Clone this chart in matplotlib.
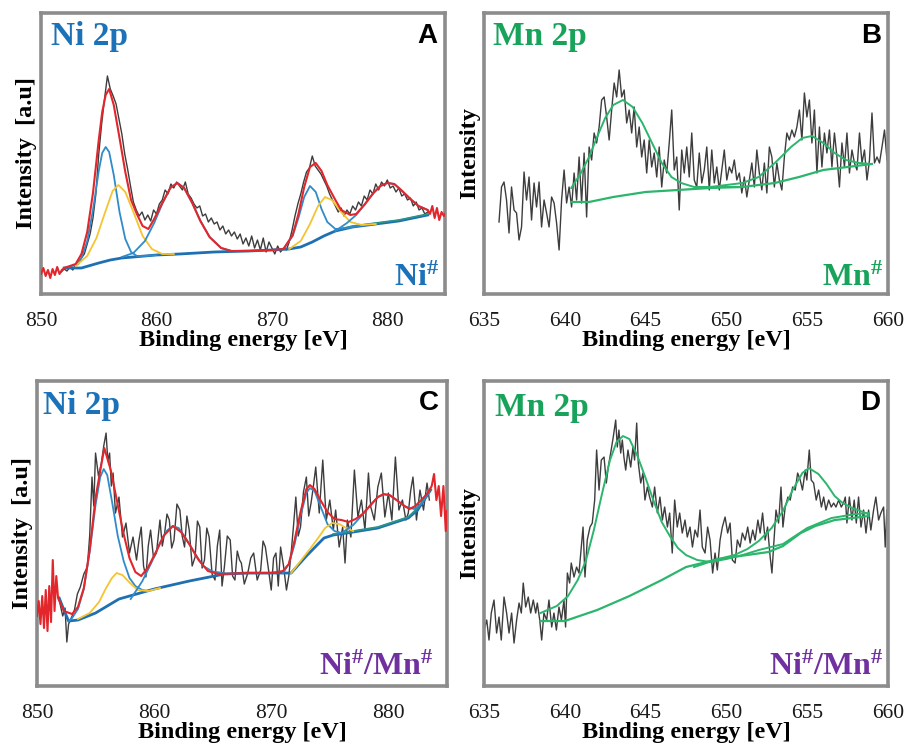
import numpy as np
import matplotlib.pyplot as plt

# ---------------- Panel A: Ni 2p of Ni# ----------------
a_raw_y = [22, 25, 23, 27, 24,
           29, 30, 36, 40, 50, 60, 76, 100, 140, 170, 195, 218,
           205, 198, 190, 175, 160, 140, 125, 108, 92, 84, 78, 82,
           74, 79, 73, 84, 80, 90, 94, 104, 100, 110, 106, 112,
           108, 104, 112, 100, 96, 90, 86, 88, 78, 80, 72, 76,
           70, 72, 64, 68, 60, 64, 58, 62, 55, 60, 50, 56,
           48, 58, 46, 54, 44, 56, 42, 52, 46, 40, 48, 42,
           46, 44, 52, 64, 78, 90, 100, 112, 122, 126, 138, 128,
           124, 120, 114, 108, 100, 94, 88, 82, 86, 78, 84, 80,
           88, 84, 92, 88, 98, 94, 104, 100, 110, 104, 112, 108,
           114, 106, 108, 102, 106, 98, 100, 94, 96, 88, 92, 84,
           86, 80, 82]
a_raw_x = np.linspace(851.75, 883.5, len(a_raw_y))

a_fit_x = [850.0, 850.2, 850.4, 850.6, 850.8, 851.0, 851.2, 851.4, 851.6, 851.8,
           852, 853, 853.5, 854, 854.5, 855, 855.3, 855.6, 855.9, 856.3,
           856.8, 857.3, 857.8, 858.3, 858.8, 859.3, 859.8, 860.5, 861.2, 861.8,
           862.4, 863.1, 863.8, 864.6, 865.6, 866.5, 868, 870, 871, 871.8,
           872.3, 872.8, 873.3, 873.8, 874.3, 874.8, 875.5, 876, 876.8, 877.3,
           878, 878.8, 879.4, 880, 880.6, 881.2, 882, 882.7, 883.5, 883.7,
           883.9, 884.1, 884.3, 884.5, 884.7, 884.9, 885.0]
a_fit_y = [20, 26, 18, 24, 16, 25, 19, 27, 20, 24,
           26, 30, 40, 62, 101, 154, 182, 199, 205, 189,
           156, 122, 94, 80, 68, 65, 75, 91, 106, 111,
           106, 91, 73, 57, 46, 43, 43, 44, 45, 59,
           80, 107, 127, 131, 123, 109, 94, 84, 79, 80,
           89, 101, 108, 111, 110, 104, 95, 88, 84, 80,
           88, 76, 86, 74, 82, 78, 80]

a_base_x = [852, 853.5, 855, 856, 857, 858, 860, 862, 865, 868, 870, 871.5,
            872.5, 873.5, 874.5, 875.5, 877, 879, 881, 883.5]
a_base_y = [26, 26, 31, 34, 36, 37, 39, 40, 42, 43, 44, 45,
            47, 52, 58, 63, 67, 70, 73, 79]
a_bg2_x = [875.5, 877, 879, 881, 883.5]
a_bg2_y = [64, 68, 71, 74, 80]

a_p1_x = [852, 853, 853.5, 854, 854.5, 855, 855.3, 855.6, 855.9, 856.3, 856.8,
          857.3, 857.8, 858.3, 859, 860]
a_p1_y = [26, 29, 36, 53, 84, 123, 141, 147, 142, 119, 82, 55, 42, 38, 38, 39]
a_y1_x = [853, 854, 854.8, 855.5, 856.2, 856.7, 857.3, 858, 858.8, 859.6, 860.5, 861.5]
a_y1_y = [28, 38, 56, 80, 103, 109, 102, 82, 58, 45, 40, 40]
a_p2_x = [857, 858, 859, 859.8, 860.5, 861.2, 861.8, 862.4, 863.1, 863.8, 864.6,
          865.6, 866.5, 868]
a_p2_y = [37, 41, 53, 71, 90, 106, 111, 106, 91, 73.5, 57, 46, 43, 43]
a_p3_x = [870, 871, 871.8, 872.3, 872.8, 873.3, 873.8, 874.3, 874.8, 875.5, 876.5, 878]
a_p3_y = [44, 45, 58, 76, 97, 108, 102, 85, 72, 65, 66, 69]
a_y3_x = [871.5, 872.5, 873.3, 874, 874.6, 875.2, 876, 876.8, 877.8, 879]
a_y3_y = [45, 53, 70, 88, 97, 94, 82, 72, 69, 70]
a_p4_x = [875.5, 876.5, 877.3, 878, 878.8, 879.4, 880, 880.6, 881.2, 882, 882.7, 883.5]
a_p4_y = [63, 71, 79, 89, 101, 108, 111, 110, 104, 95, 88, 84]

# ---------------- Panel B: Mn 2p of Mn# ----------------
b_raw_y = [72, 107, 112, 94, 61, 107, 84, 81, 54, 67, 122, 94, 117, 74, 111, 87,
           112, 67, 94, 81, 67, 97, 91, 71, 44, 94, 124, 91, 107, 87, 121, 94,
           137, 91, 141, 77, 147, 134, 161, 151, 167, 194, 197, 177, 154, 184,
           211, 197, 224, 197, 204, 171, 184, 161, 187, 147, 167, 137, 154, 121,
           154, 127, 141, 117, 147, 107, 134, 121, 151, 184, 124, 137, 84, 144,
           121, 147, 117, 161, 114, 107, 141, 111, 124, 147, 104, 144, 111, 127,
           104, 124, 144, 114, 127, 121, 134, 114, 121, 101, 117, 97, 114, 131,
           107, 144, 121, 104, 131, 101, 147, 137, 107, 131, 114, 104, 137, 161,
           154, 164, 157, 167, 184, 154, 201, 177, 194, 151, 184, 121, 167, 127,
           161, 141, 164, 127, 161, 137, 107, 151, 127, 161, 121, 144, 131, 124,
           161, 131, 144, 114, 134, 181, 131, 137, 131, 147, 164, 134]
b_raw_x = np.linspace(635.93, 659.94, len(b_raw_y))

b_base_x = [640.4, 641.5, 643, 645, 647, 649, 651, 653, 654.5, 656, 657.5, 659]
b_base_y = [92, 92, 97, 102, 104, 106, 107, 111, 117, 124, 127, 130]
b_p1_x = [640.4, 641, 641.5, 642, 642.5, 643, 643.6, 644.2, 644.8, 645.4, 646,
          646.6, 647.2, 648, 649, 650, 651]
b_p1_y = [106, 121, 137, 157, 176, 189, 194, 187, 171, 151, 131, 117, 111, 107,
          107, 107, 107]
b_p2_x = [649, 651, 652, 653, 654, 654.7, 655.3, 656, 656.7, 657.4, 658.2, 659]
b_p2_y = [107, 111, 117, 131, 147, 156, 158, 151, 141, 134, 131, 130]

# ---------------- Panel C: Ni 2p of Ni#/Mn# ----------------
c_raw_x = [851.9, 852.2, 852.4, 852.55, 852.7, 853.0, 853.2, 853.45, 853.7, 854.0,
           854.3, 854.5, 854.7, 854.85, 855.0, 855.25, 855.5, 855.7, 855.9, 856.05,
           856.2, 856.35, 856.5, 856.7, 857.0, 857.3, 857.6, 857.9, 858.2, 858.5,
           858.7, 858.9, 859.1, 859.3, 859.5, 859.7, 859.95, 860.2, 860.5, 860.7,
           860.9, 861.1, 861.3, 861.5, 861.7, 861.95, 862.2, 862.4, 862.6, 862.8,
           863.0, 863.25, 863.5, 863.7, 863.9, 864.1, 864.3, 864.5, 864.7, 864.95,
           865.2, 865.4, 865.6, 865.8, 866.0, 866.25, 866.5, 866.7, 866.9, 867.1,
           867.3, 867.45, 867.7, 868.0, 868.25, 868.5, 868.8, 869.1, 869.3, 869.5,
           869.75, 870.0, 870.2, 870.4, 870.6, 870.8, 871.05, 871.3, 871.5, 871.7,
           871.9, 872.1, 872.3, 872.5, 872.75, 873.0, 873.2, 873.4, 873.6, 873.8,
           874.1, 874.4, 874.7, 875.0, 875.3, 875.5, 875.8, 876.1, 876.3, 876.5,
           876.8, 877.1, 877.4, 877.7, 878.0, 878.3, 878.5, 878.8, 879.1, 879.4,
           879.7, 880.0, 880.3, 880.6, 880.9, 881.2, 881.5, 881.7, 881.9, 882.1,
           882.4, 882.7, 883.0, 883.3, 883.5]
c_raw_y = [86, 70, 78, 44, 62, 70, 76, 92, 99, 112,
           119, 150, 209, 180, 233, 210, 223, 240, 253, 225,
           233, 200, 213, 173, 189, 149, 163, 133, 149, 126,
           145, 159, 120, 109, 140, 156, 128, 133, 166, 140,
           153, 172, 166, 138, 146, 182, 176, 150, 139, 170,
           156, 120, 129, 165, 159, 118, 126, 158, 149, 112,
           106, 140, 156, 100, 119, 150, 146, 110, 106, 135,
           126, 123, 102, 113, 128, 133, 106, 116, 145, 139,
           118, 96, 128, 133, 100, 139, 120, 96, 110, 133,
           160, 189, 150, 159, 194, 209, 170, 183, 200, 219,
           173, 226, 166, 186, 156, 176, 139, 159, 123, 166,
           149, 216, 169, 186, 156, 213, 179, 166, 199, 213,
           169, 193, 166, 229, 176, 186, 166, 173, 195, 209,
           166, 196, 176, 203, 186]

c_fit_x = [850.0, 850.15, 850.3, 850.45, 850.6, 850.75, 850.9, 851.05, 851.2, 851.35,
           851.5, 851.65, 851.8, 852.3, 853.0, 853.5, 854, 854.5, 855, 855.4,
           855.75, 856.3, 856.9, 857.4, 857.9, 858.4, 858.9, 859.5, 860.2, 860.8,
           861.6, 862.3, 863, 863.8, 864.6, 865.5, 868, 870, 871, 871.5,
           872, 872.5, 873, 873.3, 873.7, 874.2, 874.8, 875.4, 876, 876.6,
           877.2, 877.8, 878.5, 879.1, 879.6, 880.1, 880.7, 881.4, 881.8, 882.3,
           882.8, 883.3, 883.7, 883.9, 884.1, 884.3, 884.5, 884.7, 884.9, 885.0]
c_fit_y = [70, 85, 62, 90, 58, 96, 55, 100, 64, 126,
           75, 110, 88, 75, 72, 79, 98, 136, 188, 215,
           238, 216, 181, 152, 128, 114, 110, 119, 135, 150,
           160, 154, 142, 126, 115, 112, 113, 113, 115, 122,
           146, 174, 197, 201, 197, 186, 174, 167, 166, 164,
           167, 172, 181, 189, 192, 191, 186, 180, 177, 180,
           186, 192, 200, 212, 186, 200, 170, 200, 155, 175]

c_base_x = [851.9, 852.3, 852.7, 853.5, 855, 857, 860, 863, 866, 868, 871.7,
            873, 874.5, 875.3, 877, 879.1, 881.7, 882.5, 883.6]
c_base_y = [88, 76, 65, 66, 73, 87, 97, 105, 112, 113, 113,
            130, 148, 151, 154, 158, 168, 176, 196]
c_bg2_x = [875.3, 877, 879.1, 881.7, 882.5, 883.6]
c_bg2_y = [152, 155, 159, 169, 178, 197]

c_p1_x = [852.7, 853, 853.5, 854, 854.5, 855, 855.4, 855.7, 856, 856.4, 856.9,
          857.4, 857.9, 858.4, 859, 859.5]
c_p1_y = [65, 68, 77, 97, 134, 181, 209, 217, 211, 185, 150, 125, 108, 100, 96, 95]
c_y1_x = [853.5, 854.5, 855.3, 855.9, 856.4, 856.8, 857.3, 857.9, 858.6, 859.5, 860.5]
c_y1_y = [67, 73, 84, 98, 108, 113, 111, 103.5, 96, 95, 98]
c_p2_x = [858, 859, 859.8, 860.5, 861.1, 861.6, 862.1, 862.7, 863.4, 864.2, 865, 866]
c_p2_y = [87, 105, 124, 143, 155.5, 160, 158, 148, 134, 120, 114.5, 113]
c_p3_x = [871, 871.5, 872, 872.5, 873, 873.3, 873.7, 874.2, 874.8, 875.4, 876]
c_p3_y = [113, 122, 142, 170, 193, 198, 195, 180, 162, 155, 153]
c_y3_x = [871.7, 872.5, 873.3, 874, 874.6, 875.2, 875.8, 876.4, 877]
c_y3_y = [113, 125, 137, 148, 158, 163, 162, 158, 155]
c_p4_x = [876, 877, 877.8, 878.5, 879.1, 879.6, 880.1, 880.7, 881.4, 882.2, 882.8, 883.5]
c_p4_y = [153, 161, 171.5, 181.5, 189, 191.5, 191, 186, 179.5, 177, 182, 194]

# ---------------- Panel D: Mn 2p of Ni#/Mn# ----------------
d_raw_x = [635.00, 635.17, 635.31, 635.45, 635.62, 635.78, 635.93, 636.07, 636.24, 636.40,
           636.55, 636.71, 636.86, 637.02, 637.17, 637.31, 637.43, 637.58, 637.74, 637.89,
           638.05, 638.20, 638.30, 638.45, 638.57, 638.71, 638.88, 639.02, 639.19, 639.33,
           639.48, 639.64, 639.79, 639.95, 640.05, 640.16, 640.30, 640.40, 640.57, 640.73,
           640.88, 641.02, 641.13, 641.25, 641.39, 641.56, 641.70, 641.85, 641.97, 642.12,
           642.26, 642.43, 642.57, 642.69, 642.84, 643.00, 643.15, 643.25, 643.35, 643.46,
           643.56, 643.66, 643.77, 643.91, 644.08, 644.22, 644.32, 644.45, 644.55, 644.70,
           644.84, 644.96, 645.11, 645.25, 645.42, 645.56, 645.73, 645.89, 646.04, 646.18,
           646.35, 646.49, 646.65, 646.80, 646.96, 647.11, 647.27, 647.44, 647.58,
           647.75, 647.90, 648.06, 648.22, 648.37, 648.51, 648.68, 648.84,
           648.99, 649.15, 649.30, 649.44, 649.61, 649.75, 649.92, 650.08, 650.23, 650.37,
           650.54, 650.68, 650.85, 650.99, 651.16, 651.32, 651.47, 651.63, 651.78, 651.95,
           652.09, 652.24, 652.40, 652.55, 652.71, 652.82, 652.92, 653.07, 653.23, 653.38,
           653.50, 653.64, 653.81, 653.95, 654.10, 654.26, 654.41, 654.57, 654.71, 654.88,
           654.98, 655.13, 655.25, 655.40, 655.56, 655.71, 655.88, 656.02, 656.16, 656.33,
           656.49, 656.64, 656.78, 656.95, 657.11, 657.25, 657.36, 657.46, 657.61, 657.77,
           657.91, 658.04, 658.18, 658.33, 658.49, 658.64, 658.80, 658.94, 659.11, 659.25,
           659.42, 659.56, 659.73, 659.83, 659.93]
d_raw_y = [56, 66, 46, 73, 86, 53, 69, 46, 89, 73,
           53, 73, 43, 66, 83, 73, 103, 79, 89, 73,
           86, 73, 83, 66, 46, 73, 66, 86, 59, 73,
           56, 79, 66, 86, 59, 113, 103, 123, 109, 119,
           113, 139, 159, 109, 146, 159, 163, 186, 236, 196,
           226, 229, 203, 219, 233, 249, 266, 239, 256, 233,
           246, 229, 216, 236, 219, 239, 226, 263, 223, 203,
           213, 186, 199, 189, 179, 199, 173, 189, 166, 179,
           159, 173, 133, 186, 159, 173, 153, 166, 149,
           159, 139, 156, 149, 176, 139, 133, 159,
           146, 113, 133, 116, 146, 159, 169, 153, 163, 126,
           123, 146, 139, 153, 146, 159, 143, 156, 146, 166,
           153, 173, 146, 159, 129, 113, 139, 176, 163, 199,
           159, 179, 189, 186, 199, 196, 213, 206, 196, 216,
           206, 236, 206, 203, 186, 196, 179, 189, 176, 186,
           179, 183, 179, 186, 179, 183, 189, 163, 189, 166,
           186, 163, 189, 159, 176, 153, 176, 156, 176, 189,
           166, 173, 179, 139, 176]

d_base_x = [638.5, 640, 642, 644, 646, 647.5, 649.5, 652.6, 653.5, 654.6, 655.5,
            656.7, 658.3, 658.8]
d_base_y = [65, 65, 76, 90, 106, 119, 127, 134, 140, 153, 160, 166, 169, 170]
d_p1_x = [638.5, 639.5, 640.2, 640.8, 641.3, 641.8, 642.3, 642.8, 643.2, 643.6,
          644.0, 644.5, 645.0, 645.5, 646.0, 646.5, 647.0, 647.5, 648.2, 649.0,
          650.0, 651.0, 652.0, 653.5, 655, 656.5, 658, 658.8]
d_p1_y = [73, 80, 90, 106, 125, 156, 192, 226, 244, 250,
          247, 230, 208, 185, 164, 150, 138, 131, 126, 124,
          127, 131, 136, 142, 158, 168, 172, 173]
d_p2_x = [648, 649.5, 650.5, 651.3, 652, 652.8, 653.5, 654.1, 654.7, 655.1, 655.7,
          656.2, 656.7, 657.2, 657.8, 658.3, 658.8]
d_p2_y = [119, 127, 131, 137, 145, 158, 175, 196, 213, 218, 212,
          202, 190, 183, 178, 175, 172]

# ---------------- style ----------------
NI_BLUE = '#1b72b8'
MN_GREEN = '#17a35a'
PURPLE = '#7030a0'
RAW = '#3d3d3d'
RED = '#e3262b'
BLUE = '#2f8bc9'
BASE = '#1f70b2'
YELLOW = '#f4c431'
TEAL = '#2a9487'
FIT_GREEN = '#2cb56c'

plt.rcParams['font.family'] = ['Liberation Serif', 'DejaVu Serif']
plt.rcParams['mathtext.fontset'] = 'custom'
plt.rcParams['mathtext.rm'] = 'Liberation Serif:bold'
plt.rcParams['mathtext.bf'] = 'Liberation Serif:bold'
plt.rcParams['mathtext.default'] = 'bf'

fig = plt.figure(figsize=(9.06, 7.46), dpi=100)
ax_a = fig.add_axes([0.0453, 0.6059, 0.4459, 0.3767])
ax_b = fig.add_axes([0.5342, 0.6059, 0.4459, 0.3767])
ax_c = fig.add_axes([0.0408, 0.0804, 0.4525, 0.4088])
ax_d = fig.add_axes([0.5342, 0.0804, 0.4459, 0.4088])


def style_panel(ax, xlim, xticks, ylim, ylabel):
    ax.set_xlim(*xlim)
    ax.set_ylim(*ylim)
    ax.set_xticks(xticks)
    ax.set_yticks([])
    ax.tick_params(axis='x', length=0, pad=13, labelsize=15.5, labelcolor='#1a1a1a')
    for sp in ax.spines.values():
        sp.set_color('#8c8c8c')
        sp.set_linewidth(2.6)
    ax.set_xlabel('Binding energy [eV]', fontsize=17.5, fontweight='bold', labelpad=-1)
    ax.set_ylabel(ylabel, fontsize=17.5, fontweight='bold', labelpad=3)


# Panel A
ax = ax_a
ax.plot(a_raw_x, a_raw_y, color=RAW, lw=1.0, zorder=2)
ax.plot(a_base_x, a_base_y, color=BASE, lw=2.0, zorder=3)
ax.plot(a_bg2_x, a_bg2_y, color=TEAL, lw=1.2, zorder=3)
for xs, ys, col in [(a_p1_x, a_p1_y, BLUE), (a_y1_x, a_y1_y, YELLOW), (a_p2_x, a_p2_y, BLUE),
                    (a_p3_x, a_p3_y, BLUE), (a_y3_x, a_y3_y, YELLOW), (a_p4_x, a_p4_y, BLUE)]:
    ax.plot(xs, ys, color=col, lw=1.3, zorder=3)
ax.plot(a_fit_x, a_fit_y, color=RED, lw=1.5, zorder=4)
style_panel(ax, (850, 885), [850, 860, 870, 880], (0, 281), 'Intensity  [a.u]')
ax.text(0.025, 0.97, 'Ni 2p', transform=ax.transAxes, ha='left', va='top',
        fontsize=24, fontweight='bold', color=NI_BLUE)
ax.text(0.98, 0.965, 'A', transform=ax.transAxes, ha='right', va='top',
        fontsize=20, fontweight='bold', family='Liberation Sans')
ax.text(0.985, 0.03, r'Ni$^{\#}$', transform=ax.transAxes, ha='right', va='baseline',
        fontsize=23, fontweight='bold', color=NI_BLUE)

# Panel B
ax = ax_b
ax.plot(b_raw_x, b_raw_y, color=RAW, lw=1.0, zorder=2)
ax.plot(b_base_x, b_base_y, color=FIT_GREEN, lw=1.6, zorder=3)
ax.plot(b_p1_x, b_p1_y, color=FIT_GREEN, lw=1.4, zorder=3)
ax.plot(b_p2_x, b_p2_y, color=FIT_GREEN, lw=1.4, zorder=3)
style_panel(ax, (635, 660), [635, 640, 645, 650, 655, 660], (0, 281), 'Intensity')
ax.text(0.022, 0.97, 'Mn 2p', transform=ax.transAxes, ha='left', va='top',
        fontsize=24, fontweight='bold', color=MN_GREEN)
ax.text(0.983, 0.965, 'B', transform=ax.transAxes, ha='right', va='top',
        fontsize=20, fontweight='bold', family='Liberation Sans')
ax.text(0.988, 0.03, r'Mn$^{\#}$', transform=ax.transAxes, ha='right', va='baseline',
        fontsize=23, fontweight='bold', color=MN_GREEN)

# Panel C
ax = ax_c
ax.plot(c_raw_x, c_raw_y, color=RAW, lw=1.0, zorder=2)
ax.plot(c_base_x, c_base_y, color=BASE, lw=2.0, zorder=3)
ax.plot(c_bg2_x, c_bg2_y, color=TEAL, lw=1.3, zorder=3)
for xs, ys, col in [(c_p1_x, c_p1_y, BLUE), (c_y1_x, c_y1_y, YELLOW), (c_p2_x, c_p2_y, BLUE),
                    (c_p3_x, c_p3_y, BLUE), (c_y3_x, c_y3_y, YELLOW), (c_p4_x, c_p4_y, BLUE)]:
    ax.plot(xs, ys, color=col, lw=1.3, zorder=3)
ax.plot(c_fit_x, c_fit_y, color=RED, lw=1.5, zorder=4)
style_panel(ax, (850, 885), [850, 860, 870, 880], (0, 305), 'Intensity  [a.u]')
ax.text(0.015, 0.97, 'Ni 2p', transform=ax.transAxes, ha='left', va='top',
        fontsize=24, fontweight='bold', color=NI_BLUE)
ax.text(0.98, 0.97, 'C', transform=ax.transAxes, ha='right', va='top',
        fontsize=20, fontweight='bold', family='Liberation Sans')
ax.text(0.966, 0.036, r'Ni$^{\#}$/Mn$^{\#}$', transform=ax.transAxes, ha='right',
        va='baseline', fontsize=23, fontweight='bold', color=PURPLE)

# Panel D
ax = ax_d
ax.plot(d_raw_x, d_raw_y, color=RAW, lw=1.0, zorder=2)
ax.plot(d_base_x, d_base_y, color=FIT_GREEN, lw=1.6, zorder=3)
ax.plot(d_p1_x, d_p1_y, color=FIT_GREEN, lw=1.4, zorder=3)
ax.plot(d_p2_x, d_p2_y, color=FIT_GREEN, lw=1.4, zorder=3)
style_panel(ax, (635, 660), [635, 640, 645, 650, 655, 660], (0, 305), 'Intensity')
ax.text(0.027, 0.965, 'Mn 2p', transform=ax.transAxes, ha='left', va='top',
        fontsize=24, fontweight='bold', color=MN_GREEN)
ax.text(0.98, 0.97, 'D', transform=ax.transAxes, ha='right', va='top',
        fontsize=20, fontweight='bold', family='Liberation Sans')
ax.text(0.988, 0.036, r'Ni$^{\#}$/Mn$^{\#}$', transform=ax.transAxes, ha='right',
        va='baseline', fontsize=23, fontweight='bold', color=PURPLE)

fig.savefig('out.png', dpi=100)
